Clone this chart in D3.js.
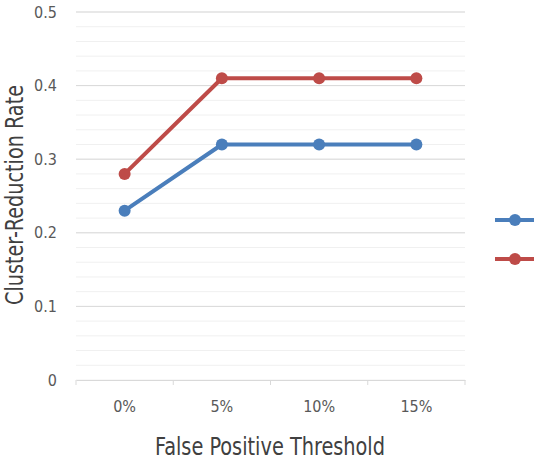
<!DOCTYPE html>
<html><head><meta charset="utf-8">
<script src="https://cdn.jsdelivr.net/npm/d3@7"></script>
<style>body{margin:0;background:#fff}svg{display:block}text{font-family:"DejaVu Sans Condensed","DejaVu Sans",sans-serif}</style>
</head><body><svg id="c" width="534" height="462"></svg>
<script>
const categories = ["0%","5%","10%","15%"];
const seriesNames = ["Series 1","Series 2"];
const blueValues = [0.23,0.32,0.32,0.32];
const redValues = [0.28,0.41,0.41,0.41];
const yTicks = [0,0.1,0.2,0.3,0.4,0.5];
const yMinorTicks = d3.range(0,0.5001,0.02);

const svg = d3.select("#c");
const L=76,R=465,T=12,B=380;
const x = d3.scaleBand().domain(categories).range([L,R]);
const y = d3.scaleLinear().domain([0,0.5]).range([B,T]);

svg.append("g").selectAll("line").data(yMinorTicks).join("line")
  .attr("x1",L).attr("x2",R).attr("y1",d=>y(d)).attr("y2",d=>y(d))
  .attr("stroke","#f0f0f0").attr("stroke-width",1);
svg.append("g").selectAll("line").data(yTicks.slice(1)).join("line")
  .attr("x1",L).attr("x2",R).attr("y1",d=>y(d)).attr("y2",d=>y(d))
  .attr("stroke","#d9d9d9").attr("stroke-width",1);

const xAxis = svg.append("g").attr("transform",`translate(0,${B})`)
  .call(d3.axisBottom(x).tickSize(0).tickPadding(21));
xAxis.select(".domain").attr("stroke","#d9d9d9");
xAxis.selectAll("text").attr("fill","#595959").attr("font-size",16);
const bounds = categories.map(c=>x(c)).concat([R]);
xAxis.selectAll(".tk").data(bounds).join("line").attr("class","tk")
  .attr("x1",d=>d).attr("x2",d=>d).attr("y1",0).attr("y2",5).attr("stroke","#d9d9d9");

const yAxis = svg.append("g").attr("transform",`translate(${L},0)`)
  .call(d3.axisLeft(y).tickValues(yTicks).tickFormat(d=>d===0?"0":d3.format(".1f")(d)).tickSize(0).tickPadding(19));
yAxis.select(".domain").remove();
yAxis.selectAll("text").attr("fill","#595959").attr("font-size",16);

svg.append("text").attr("x",270).attr("y",455).attr("text-anchor","middle")
  .attr("font-family","'Open Sans',sans-serif")
  .attr("font-size",24).attr("fill","#404040")
  .attr("textLength",230).attr("lengthAdjust","spacingAndGlyphs").text("False Positive Threshold");
svg.append("text").attr("transform","translate(23,195) rotate(-90)").attr("text-anchor","middle")
  .attr("font-family","'Open Sans',sans-serif")
  .attr("font-size",24).attr("fill","#404040")
  .attr("textLength",220).attr("lengthAdjust","spacingAndGlyphs").text("Cluster-Reduction Rate");

const colors = ["#4a7ebb","#be4b48"];
const data = [blueValues, redValues];
const line = d3.line().x((d,i)=>x(categories[i])+x.bandwidth()/2).y(d=>y(d));
data.forEach((vals,k)=>{
  svg.append("path").datum(vals).attr("d",line).attr("fill","none")
    .attr("stroke",colors[k]).attr("stroke-width",4).attr("stroke-linejoin","round");
  svg.append("g").selectAll("circle").data(vals).join("circle")
    .attr("cx",(d,i)=>x(categories[i])+x.bandwidth()/2).attr("cy",d=>y(d)).attr("r",6)
    .attr("fill",colors[k]);
});
const legY=[220,259];
seriesNames.forEach((n,k)=>{
  const g = svg.append("g").attr("class","legend");
  g.append("line").attr("x1",495).attr("x2",540).attr("y1",legY[k]).attr("y2",legY[k])
    .attr("stroke",colors[k]).attr("stroke-width",4);
  g.append("circle").attr("cx",515).attr("cy",legY[k]).attr("r",6).attr("fill",colors[k]);
});
</script></body></html>
